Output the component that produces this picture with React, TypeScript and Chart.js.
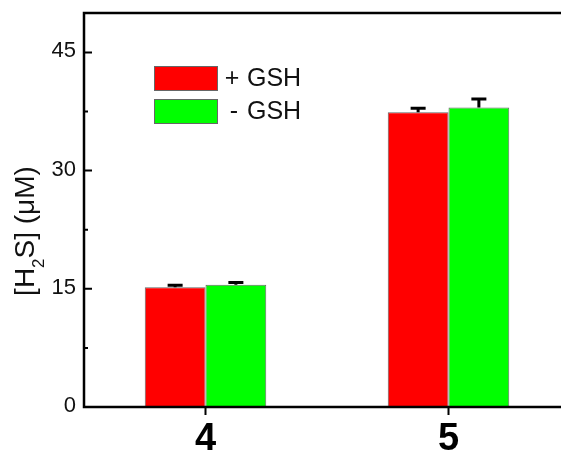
import React, { useEffect, useRef } from "react";
import { Chart, registerables } from "chart.js";

Chart.register(...registerables);

// Compounds on the x axis
const categories = ["4", "5"];
// H2S released (µM), with and without glutathione
const withGSH = [15.2, 37.4];
const withoutGSH = [15.5, 38.0];
// Standard deviations (upper whiskers)
const withGSHErr = [0.25, 0.5];
const withoutGSHErr = [0.3, 1.1];
// Left axis
const yMajorTicks = [0, 15, 30, 45];
const yMinorTicks = [7.5, 22.5, 37.5];
const yMin = 0;
const yMax = 50;

const FONT = "Arial, 'Liberation Sans', sans-serif";

const figurePlugin = {
  id: "figureDecorations",
  afterDatasetsDraw(chart: any) {
    const { ctx, chartArea, scales } = chart;
    const ys = scales.y;
    const xs = scales.x;
    ctx.save();

    // error bars (upper half only)
    chart.data.datasets.forEach((ds: any, di: number) => {
      const meta = chart.getDatasetMeta(di);
      meta.data.forEach((bar: any, i: number) => {
        const v = ds.data[i];
        const e = ds.errors[i];
        const x = bar.x;
        const yTop = ys.getPixelForValue(v + e);
        const yBase = ys.getPixelForValue(v);
        ctx.strokeStyle = "#000";
        ctx.lineWidth = 3;
        ctx.beginPath();
        ctx.moveTo(x, yBase);
        ctx.lineTo(x, yTop);
        ctx.moveTo(x - 7.5, yTop);
        ctx.lineTo(x + 7.5, yTop);
        ctx.stroke();
      });
    });

    // frame
    ctx.strokeStyle = "#000";
    ctx.lineWidth = 2.5;
    ctx.beginPath();
    ctx.rect(chartArea.left, chartArea.top, chartArea.right - chartArea.left, chartArea.bottom - chartArea.top);
    ctx.stroke();

    // y ticks (inward)
    ctx.lineWidth = 2;
    ctx.beginPath();
    yMajorTicks.forEach((t) => {
      const y = ys.getPixelForValue(t);
      ctx.moveTo(chartArea.left, y);
      ctx.lineTo(chartArea.left + 8, y);
    });
    yMinorTicks.forEach((t) => {
      const y = ys.getPixelForValue(t);
      ctx.moveTo(chartArea.left, y);
      ctx.lineTo(chartArea.left + 4, y);
    });
    // x ticks (outward)
    categories.forEach((_, i) => {
      const x = xs.getPixelForValue(i);
      ctx.moveTo(x, chartArea.bottom);
      ctx.lineTo(x, chartArea.bottom + 8);
    });
    ctx.stroke();

    // y tick labels
    ctx.fillStyle = "#111";
    ctx.font = `22px ${FONT}`;
    ctx.textAlign = "right";
    ctx.textBaseline = "middle";
    yMajorTicks.forEach((t) => {
      ctx.fillText(String(t), chartArea.left - 8, ys.getPixelForValue(t) - 1);
    });

    // x tick labels
    ctx.fillStyle = "#000";
    ctx.font = `bold 38px ${FONT}`;
    ctx.textAlign = "center";
    ctx.textBaseline = "alphabetic";
    categories.forEach((c, i) => {
      ctx.fillText(c, xs.getPixelForValue(i), chartArea.bottom + 43);
    });

    // y axis title: [H2S] (µM)
    const big = `28px ${FONT}`;
    const small = `17px ${FONT}`;
    const parts: [string, string, number][] = [
      ["[H", big, 0],
      ["2", small, 10],
      ["S] (\u03bcM)", big, 0],
    ];
    let total = 0;
    parts.forEach(([s, f]) => {
      ctx.font = f;
      total += ctx.measureText(s).width;
    });
    ctx.translate(34, 231);
    ctx.rotate(-Math.PI / 2);
    ctx.fillStyle = "#111";
    ctx.textAlign = "left";
    ctx.textBaseline = "alphabetic";
    let cx = -total / 2;
    parts.forEach(([s, f, dy]) => {
      ctx.font = f;
      ctx.fillText(s, cx, dy);
      cx += ctx.measureText(s).width;
    });
    ctx.setTransform(1, 0, 0, 1, 0, 0);

    // legend
    const boxX = 154;
    const boxW = 63;
    const boxH = 24;
    const rowsY = [66, 99];
    const signOffset = [15, 17];
    ctx.font = `25px ${FONT}`;
    ctx.textBaseline = "middle";
    chart.data.datasets.forEach((ds: any, di: number) => {
      const y = rowsY[di];
      ctx.fillStyle = ds.backgroundColor;
      ctx.fillRect(boxX, y, boxW, boxH);
      ctx.strokeStyle = "#666";
      ctx.lineWidth = 1;
      ctx.strokeRect(boxX + 0.5, y + 0.5, boxW, boxH);
      ctx.fillStyle = "#111";
      const [sign, name] = String(ds.label).split(" ");
      ctx.textAlign = "center";
      ctx.fillText(sign, boxX + boxW + signOffset[di], y + boxH / 2 + 1);
      ctx.textAlign = "left";
      ctx.fillText(name, boxX + boxW + 30, y + boxH / 2 + 1);
    });

    ctx.restore();
  },
};

export default function App() {
  const ref = useRef<HTMLCanvasElement | null>(null);

  useEffect(() => {
    if (!ref.current) return;
    const chart = new Chart(ref.current, {
      type: "bar",
      data: {
        labels: categories,
        datasets: [
          {
            label: "+ GSH",
            data: withGSH,
            errors: withGSHErr,
            backgroundColor: "#ff0000",
            borderColor: "#666",
            borderWidth: 1,
            categoryPercentage: 0.5,
            barPercentage: 1.0,
          } as any,
          {
            label: "- GSH",
            data: withoutGSH,
            errors: withoutGSHErr,
            backgroundColor: "#00ff00",
            borderColor: "#666",
            borderWidth: 1,
            categoryPercentage: 0.5,
            barPercentage: 1.0,
          } as any,
        ],
      },
      options: {
        responsive: false,
        animation: false,
        layout: { padding: { left: 84, top: 13, right: 30, bottom: 46 } },
        plugins: { legend: { display: false }, tooltip: { enabled: false } },
        scales: {
          x: { display: false },
          y: { display: false, min: yMin, max: yMax },
        },
      },
      plugins: [figurePlugin],
    });
    return () => chart.destroy();
  }, []);

  return (
    <div
      style={{
        position: "fixed",
        left: 0,
        top: 0,
        width: 561,
        height: 453,
        overflow: "hidden",
        background: "#fff",
      }}
    >
      <canvas ref={ref} width={600} height={453} style={{ width: 600, height: 453, display: "block" }} />
    </div>
  );
}
